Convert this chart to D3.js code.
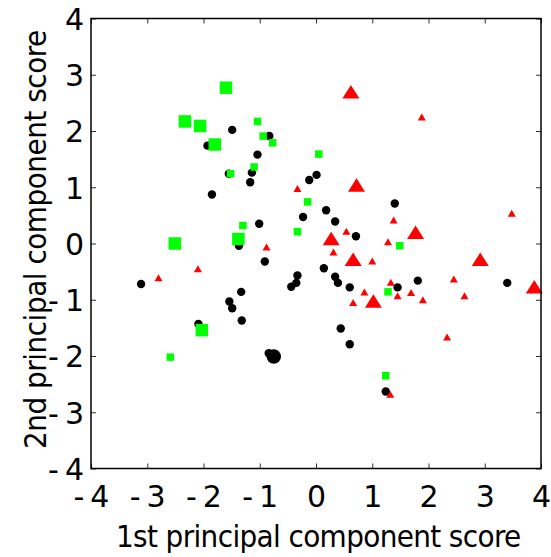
<!DOCTYPE html>
<html><head><meta charset="utf-8">
<script src="https://cdn.jsdelivr.net/npm/d3@7"></script>
<style>body{margin:0;background:#fff}svg{display:block}</style>
</head><body>
<script>
// ---- data ----
const xTicks = [-4,-3,-2,-1,0,1,2,3,4];
const yTicks = [-4,-3,-2,-1,0,1,2,3,4];
const xTitle = "1st principal component score";
const yTitle = "2nd principal component score";

const blackSmall = [[-1.49,2.02],[-0.83,1.91],[-1.93,1.74],[-1.04,1.58],[-1.55,1.24],[-1.14,1.26],[-1.17,1.09],[-0.12,1.13],[0.01,1.22],[-1.85,0.87],[1.40,0.71],[0.18,0.59],[-0.23,0.47],[0.34,0.39],[-1.01,0.35],[0.71,0.13],[-1.37,-0.04],[-0.91,-0.32],[0.14,-0.44],[-0.33,-0.57],[0.34,-0.59],[1.81,-0.66],[-0.35,-0.70],[0.39,-0.70],[3.40,-0.70],[-3.11,-0.72],[-0.44,-0.77],[0.60,-0.78],[1.45,-0.78],[-1.33,-0.86],[-1.54,-1.03],[-1.49,-1.15],[-1.32,-1.37],[-2.09,-1.43],[0.44,-1.51],[0.60,-1.79],[-0.84,-1.95],[1.24,-2.63]];
const blackLarge = [[-0.75,-2.01]];
const greenLarge = [[-1.60,2.77],[-2.33,2.17],[-2.06,2.09],[-1.80,1.76],[-2.51,0.0],[-1.38,0.08],[-2.03,-1.54]];
const greenSmall = [[-1.04,2.17],[-0.94,1.91],[-0.77,1.79],[0.05,1.59],[-1.10,1.36],[-1.52,1.24],[-0.15,0.74],[-1.30,0.32],[-0.33,0.21],[1.49,-0.04],[1.28,-0.86],[-2.59,-2.02],[1.24,-2.35]];
const redLarge = [[0.62,2.70],[0.72,1.04],[0.27,0.09],[1.77,0.20],[0.66,-0.28],[2.92,-0.28],[1.02,-1.02],[3.88,-0.77]];
const redSmall = [[1.88,2.25],[-0.33,0.98],[1.38,0.42],[3.48,0.54],[0.54,0.22],[1.28,0.03],[-0.88,-0.06],[0.31,-0.15],[1.00,-0.31],[-2.10,-0.45],[-2.80,-0.61],[2.45,-0.63],[1.33,-0.69],[0.86,-0.86],[1.69,-0.87],[1.45,-0.93],[2.64,-0.93],[1.90,-1.00],[0.66,-1.05],[2.33,-1.66],[1.32,-2.68]];

// ---- layout ----
const W = 551, H = 557;
const L = 91, R = 541, T = 18.5, B = 468.5;
const svg = d3.select("body").append("svg").attr("width", W).attr("height", H);
const x = d3.scaleLinear().domain([-4,4]).range([L,R]);
const y = d3.scaleLinear().domain([-4,4]).range([B,T]);
const font = "DejaVu Sans, sans-serif";
const titleFont = "'DejaVu Sans Condensed', 'DejaVu Sans', sans-serif";
const fmt = d => d < 0 ? "-\u2009" + Math.abs(d) : String(d);

const tickLen = 5;
function styleAxis(g) {
  g.select(".domain").remove();
  g.selectAll(".tick line").attr("stroke", "#333").attr("stroke-width", 1);
  g.selectAll("text").attr("font-family", font).attr("font-size", 30).attr("fill", "#000");
  return g;
}
const gB = styleAxis(svg.append("g").attr("transform", `translate(0,${B})`)
  .call(d3.axisBottom(x).tickValues(xTicks).tickSizeInner(-tickLen).tickSizeOuter(0).tickFormat(fmt)));
gB.selectAll(".tick text").attr("dy", null).attr("y", 38);
styleAxis(svg.append("g").attr("transform", `translate(0,${T})`)
  .call(d3.axisTop(x).tickValues(xTicks).tickSizeInner(-tickLen).tickSizeOuter(0).tickFormat("")));
const gL = styleAxis(svg.append("g").attr("transform", `translate(${L},0)`)
  .call(d3.axisLeft(y).tickValues(yTicks).tickSizeInner(-tickLen).tickSizeOuter(0).tickFormat(fmt)));
gL.selectAll(".tick text").attr("x", -7).attr("dy", "0.36em");
styleAxis(svg.append("g").attr("transform", `translate(${R},0)`)
  .call(d3.axisRight(y).tickValues(yTicks).tickSizeInner(-tickLen).tickSizeOuter(0).tickFormat("")));

// markers
const mk = svg.append("g");
function circles(data, r) {
  mk.selectAll(null).data(data).enter().append("circle")
    .attr("cx", d => x(d[0])).attr("cy", d => y(d[1])).attr("r", r).attr("fill", "#000");
}
function squares(data, s) {
  mk.selectAll(null).data(data).enter().append("rect")
    .attr("x", d => x(d[0]) - s/2).attr("y", d => y(d[1]) - s/2)
    .attr("width", s).attr("height", s).attr("fill", "#00ff00");
}
function triangles(data, w, h) {
  mk.selectAll(null).data(data).enter().append("path")
    .attr("d", d => { const cx = x(d[0]), cy = y(d[1]);
      return `M${cx},${cy - h/2}L${cx + w/2},${cy + h/2}L${cx - w/2},${cy + h/2}Z`; })
    .attr("fill", "#ff0000");
}
circles(blackSmall, 4.2);
circles(blackLarge, 7.2);
squares(greenLarge, 12.5);
squares(greenSmall, 7.5);
triangles(redLarge, 17, 13.5);
triangles(redSmall, 8, 7);

// frame
svg.append("rect").attr("x", L).attr("y", T).attr("width", R-L).attr("height", B-T)
  .attr("fill", "none").attr("stroke", "#000").attr("stroke-width", 1.5);

// titles
svg.append("text").attr("x", 318).attr("y", 547).attr("text-anchor", "middle")
  .attr("font-family", titleFont).attr("font-size", 31).attr("letter-spacing", -1.2)
  .attr("textLength", 404).attr("lengthAdjust", "spacing")
  .text(xTitle);
svg.append("text").attr("transform", `translate(46,240) rotate(-90)`).attr("text-anchor", "middle")
  .attr("font-family", titleFont).attr("font-size", 31).attr("letter-spacing", -1.2)
  .attr("textLength", 418).attr("lengthAdjust", "spacing")
  .text(yTitle);
</script>
</body></html>
